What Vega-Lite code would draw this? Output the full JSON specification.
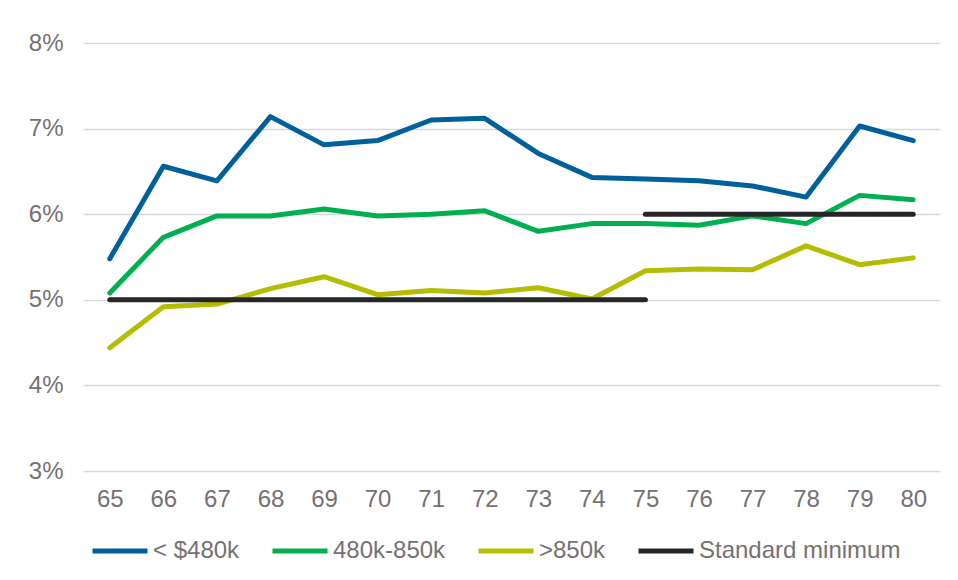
{
  "$schema": "https://vega.github.io/schema/vega-lite/v6.json",
  "autosize": {"type": "none"},
  "width": 857,
  "height": 428,
  "padding": {"left": 83, "top": 43, "right": 18, "bottom": 109},
  "background": "white",
  "config": {
    "font": "Liberation Sans",
    "view": {"stroke": null},
    "axis": {
      "labelFont": "Liberation Sans",
      "labelColor": "#767171",
      "labelFontSize": 24,
      "ticks": false,
      "domain": false,
      "gridColor": "#d9d9d9",
      "gridWidth": 1.5
    }
  },
  "data": {
    "values": [
      {"age": 65, "series": "< $480k", "seg": "s1", "rate": 0.0548},
      {"age": 66, "series": "< $480k", "seg": "s1", "rate": 0.0656},
      {"age": 67, "series": "< $480k", "seg": "s1", "rate": 0.0639},
      {"age": 68, "series": "< $480k", "seg": "s1", "rate": 0.0714},
      {"age": 69, "series": "< $480k", "seg": "s1", "rate": 0.0681},
      {"age": 70, "series": "< $480k", "seg": "s1", "rate": 0.0686},
      {"age": 71, "series": "< $480k", "seg": "s1", "rate": 0.0710},
      {"age": 72, "series": "< $480k", "seg": "s1", "rate": 0.0712},
      {"age": 73, "series": "< $480k", "seg": "s1", "rate": 0.0671},
      {"age": 74, "series": "< $480k", "seg": "s1", "rate": 0.0643},
      {"age": 75, "series": "< $480k", "seg": "s1", "rate": 0.0641},
      {"age": 76, "series": "< $480k", "seg": "s1", "rate": 0.0639},
      {"age": 77, "series": "< $480k", "seg": "s1", "rate": 0.0633},
      {"age": 78, "series": "< $480k", "seg": "s1", "rate": 0.0620},
      {"age": 79, "series": "< $480k", "seg": "s1", "rate": 0.0703},
      {"age": 80, "series": "< $480k", "seg": "s1", "rate": 0.0686},
      {"age": 65, "series": "480k-850k", "seg": "s1", "rate": 0.0508},
      {"age": 66, "series": "480k-850k", "seg": "s1", "rate": 0.0573},
      {"age": 67, "series": "480k-850k", "seg": "s1", "rate": 0.0598},
      {"age": 68, "series": "480k-850k", "seg": "s1", "rate": 0.0598},
      {"age": 69, "series": "480k-850k", "seg": "s1", "rate": 0.0606},
      {"age": 70, "series": "480k-850k", "seg": "s1", "rate": 0.0598},
      {"age": 71, "series": "480k-850k", "seg": "s1", "rate": 0.0600},
      {"age": 72, "series": "480k-850k", "seg": "s1", "rate": 0.0604},
      {"age": 73, "series": "480k-850k", "seg": "s1", "rate": 0.0580},
      {"age": 74, "series": "480k-850k", "seg": "s1", "rate": 0.0589},
      {"age": 75, "series": "480k-850k", "seg": "s1", "rate": 0.0589},
      {"age": 76, "series": "480k-850k", "seg": "s1", "rate": 0.0587},
      {"age": 77, "series": "480k-850k", "seg": "s1", "rate": 0.0598},
      {"age": 78, "series": "480k-850k", "seg": "s1", "rate": 0.0589},
      {"age": 79, "series": "480k-850k", "seg": "s1", "rate": 0.0622},
      {"age": 80, "series": "480k-850k", "seg": "s1", "rate": 0.0617},
      {"age": 65, "series": ">850k", "seg": "s1", "rate": 0.0444},
      {"age": 66, "series": ">850k", "seg": "s1", "rate": 0.0492},
      {"age": 67, "series": ">850k", "seg": "s1", "rate": 0.0495},
      {"age": 68, "series": ">850k", "seg": "s1", "rate": 0.0513},
      {"age": 69, "series": ">850k", "seg": "s1", "rate": 0.0527},
      {"age": 70, "series": ">850k", "seg": "s1", "rate": 0.0506},
      {"age": 71, "series": ">850k", "seg": "s1", "rate": 0.0511},
      {"age": 72, "series": ">850k", "seg": "s1", "rate": 0.0508},
      {"age": 73, "series": ">850k", "seg": "s1", "rate": 0.0514},
      {"age": 74, "series": ">850k", "seg": "s1", "rate": 0.0501},
      {"age": 75, "series": ">850k", "seg": "s1", "rate": 0.0534},
      {"age": 76, "series": ">850k", "seg": "s1", "rate": 0.0536},
      {"age": 77, "series": ">850k", "seg": "s1", "rate": 0.0535},
      {"age": 78, "series": ">850k", "seg": "s1", "rate": 0.0563},
      {"age": 79, "series": ">850k", "seg": "s1", "rate": 0.0541},
      {"age": 80, "series": ">850k", "seg": "s1", "rate": 0.0549},
      {"age": 65, "series": "Standard minimum", "seg": "s1", "rate": 0.05},
      {"age": 75, "series": "Standard minimum", "seg": "s1", "rate": 0.05},
      {"age": 75, "series": "Standard minimum", "seg": "s2", "rate": 0.06},
      {"age": 80, "series": "Standard minimum", "seg": "s2", "rate": 0.06}
    ]
  },
  "mark": {"type": "line", "strokeWidth": 5, "strokeCap": "round", "strokeJoin": "round"},
  "encoding": {
    "x": {
      "field": "age",
      "type": "ordinal",
      "scale": {"type": "point", "padding": 0.5},
      "axis": {"title": null, "labelAngle": 0, "labelPadding": 16, "grid": false}
    },
    "y": {
      "field": "rate",
      "type": "quantitative",
      "scale": {"domain": [0.03, 0.08], "nice": false, "zero": false},
      "axis": {
        "title": null,
        "values": [0.03, 0.04, 0.05, 0.06, 0.07, 0.08],
        "format": ".0%",
        "labelPadding": 20,
        "grid": true
      }
    },
    "color": {
      "field": "series",
      "type": "nominal",
      "scale": {
        "domain": ["< $480k", "480k-850k", ">850k", "Standard minimum"],
        "range": ["#00609c", "#00b050", "#b5bd00", "#262626"]
      },
      "legend": {
        "title": null,
        "orient": "none",
        "legendX": 7,
        "legendY": 478,
        "direction": "horizontal",
        "columns": 4,
        "columnPadding": 22,
        "symbolType": "stroke",
        "symbolSize": 3025,
        "symbolStrokeWidth": 5,
        "labelOffset": 3,
        "labelFont": "Liberation Sans",
        "labelFontSize": 24,
        "labelColor": "#767171",
        "labelLimit": 400
      }
    },
    "detail": {"field": "seg"}
  }
}
